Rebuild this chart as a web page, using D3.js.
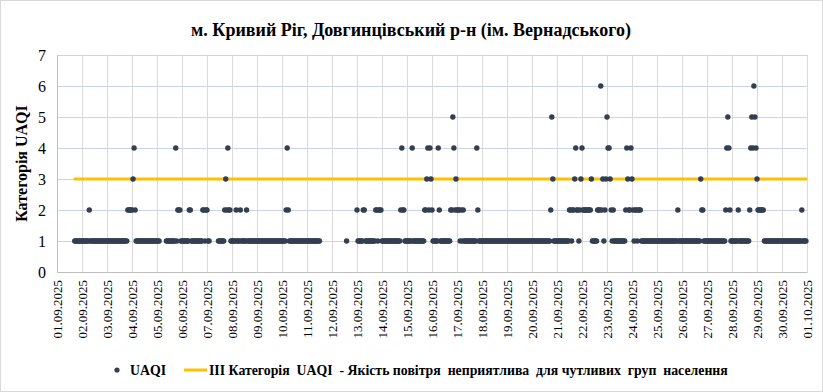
<!DOCTYPE html>
<html><head><meta charset="utf-8">
<script src="https://cdn.jsdelivr.net/npm/d3@7/dist/d3.min.js"></script>
<style>body{margin:0;background:#fff}svg{display:block}</style>
</head><body><svg id="c" width="823" height="392"></svg>
<script>
// ---- data ----
const titleText = "м. Кривий Ріг, Довгинцівський р-н (ім. Вернадського)";
const yTitle = "Категорія UAQI";
const tickLabels = ["01.09.2025","02.09.2025","03.09.2025","04.09.2025","05.09.2025","06.09.2025","07.09.2025","08.09.2025","09.09.2025","10.09.2025","11.09.2025","12.09.2025","13.09.2025","14.09.2025","15.09.2025","16.09.2025","17.09.2025","18.09.2025","19.09.2025","20.09.2025","21.09.2025","22.09.2025","23.09.2025","24.09.2025","25.09.2025","26.09.2025","27.09.2025","28.09.2025","29.09.2025","30.09.2025","01.10.2025"];
const yTicks = [0,1,2,3,4,5,6,7];
// hourly UAQI per day (24 chars per day = hours 00..23, '.' = no data)
const hourlyUAQI = [
 ".................1111111",
 "111111121111111111111111",
 "111111111111111111112222",
 "234211111111111111111111",
 "111......111111111412221",
 "111111122111111111112212",
 "211........1111112324221",
 "111121112111112111111111",
 "111111111111111111111111",
 "111124211111111111111111",
 "1111111111111...........",
 "..............1.........",
 "211111221111111111221222",
 "111111111111111111242211",
 "111114111111111112234243",
 "211111421111111111225423",
 "222121211111111111142111",
 "111111111111111111111111",
 "111111111111111111111111",
 "111111111111111111253111",
 "111111111111221223422123",
 "422222222311111222623123",
 "544321211111111111243224",
 "321221222111111111111111",
 "111111111111111111112111",
 "111111111111111111322111",
 "111111111111111111245421",
 "111111211111111112454654",
 "322222211111111111111111",
 "111111111111111111121111"
];
const seriesName = "UAQI";
const thresholdValue = 3;
const thresholdStartHour = 16;
const thresholdName = "ІІІ Категорія  UAQI  - Якість повітря  неприятлива  для чутливих  груп  населення";

// ---- build points ----
const points = [];
hourlyUAQI.forEach((s, d) => {
  for (let i = 0; i < s.length; i++) {
    const c = s[i];
    if (c !== '.') points.push({h: d * 24 + i, v: +c});
  }
});
const totalHours = (tickLabels.length - 1) * 24;

const svg = d3.select('#c');
const W = 823, H = 392;
svg.append('rect').attr('x',0.5).attr('y',0.5).attr('width',W-1).attr('height',H-1)
  .attr('fill','#fff').attr('stroke','#d9d9d9');

const x = d3.scaleLinear().domain([0, totalHours]).range([57, 807]);
const y = d3.scaleLinear().domain([0, 7]).range([272, 55]);
const serif = 'Liberation Serif, Times New Roman, serif';

// title
svg.append('text').attr('x', 411).attr('y', 36).attr('text-anchor','middle')
  .attr('font-family', serif).attr('font-weight','bold').attr('font-size', 18)
  .attr('fill','#000').text(titleText);

// horizontal gridlines
svg.append('g').selectAll('line').data(yTicks.filter(t => t > 0)).join('line')
  .attr('x1', x(0)).attr('x2', x(totalHours))
  .attr('y1', d => Math.round(y(d)) + 0.5).attr('y2', d => Math.round(y(d)) + 0.5)
  .attr('stroke', '#c9d4ea').attr('stroke-width', 1);
// vertical gridlines
const dayTicks = d3.range(tickLabels.length).map(i => i * 24);
svg.append('g').selectAll('line').data(dayTicks.filter(t => t > 0)).join('line')
  .attr('x1', d => Math.round(x(d)) + 0.5).attr('x2', d => Math.round(x(d)) + 0.5)
  .attr('y1', y(7)).attr('y2', y(0))
  .attr('stroke', '#d9d9d9').attr('stroke-width', 1);

// y axis
const yAxis = d3.axisLeft(y).tickValues(yTicks).tickSize(0).tickPadding(11).tickFormat(d3.format('d'));
const gy = svg.append('g').attr('transform', `translate(${x(0)},0)`).call(yAxis);
gy.attr('font-family', serif);
gy.select('.domain').attr('stroke', '#bfbfbf');
gy.selectAll('text').attr('font-family', serif).attr('font-size', 16).attr('fill', '#000');

// x axis
const xAxis = d3.axisBottom(x).tickValues(dayTicks).tickSize(0).tickPadding(0)
  .tickFormat((d, i) => tickLabels[i]);
const gx = svg.append('g').attr('transform', `translate(0,${y(0)})`).call(xAxis);
gx.attr('font-family', serif);
gx.select('.domain').attr('stroke', '#bfbfbf');
gx.selectAll('text').attr('font-family', serif).attr('font-size', 13).attr('fill', '#000')
  .attr('text-anchor', 'end').attr('dy', '0.35em')
  .attr('transform', 'translate(0,8) rotate(-90)').attr('x', 0).attr('y', 0);

// y title
svg.append('text').attr('transform', `translate(27,${(y(0)+y(7))/2}) rotate(-90)`)
  .attr('text-anchor','middle').attr('font-family', serif).attr('font-weight','bold')
  .attr('font-size', 16).attr('fill', '#000').text(yTitle);

// threshold line
svg.append('line').attr('x1', x(thresholdStartHour)).attr('x2', x(totalHours))
  .attr('y1', y(thresholdValue)).attr('y2', y(thresholdValue))
  .attr('stroke', '#ffc000').attr('stroke-width', 3);

// points
svg.append('g').selectAll('circle').data(points).join('circle')
  .attr('cx', d => x(d.h)).attr('cy', d => y(d.v)).attr('r', 2.7)
  .attr('fill', '#333f50');

// legend
const lg = svg.append('g');
lg.append('circle').attr('cx', 117).attr('cy', 370).attr('r', 2.6).attr('fill', '#333f50');
lg.append('text').attr('x', 130).attr('y', 375).attr('font-family', serif).attr('font-weight','bold')
  .attr('font-size', 13.8).attr('fill','#000').text(seriesName);
lg.append('line').attr('x1', 184).attr('x2', 207).attr('y1', 370).attr('y2', 370)
  .attr('stroke', '#ffc000').attr('stroke-width', 3);
lg.append('text').attr('x', 209).attr('y', 375).attr('font-family', serif).attr('font-weight','bold')
  .attr('font-size', 13.8).attr('fill','#000').style('white-space','pre')
  .text(thresholdName);
</script>
</body></html>
